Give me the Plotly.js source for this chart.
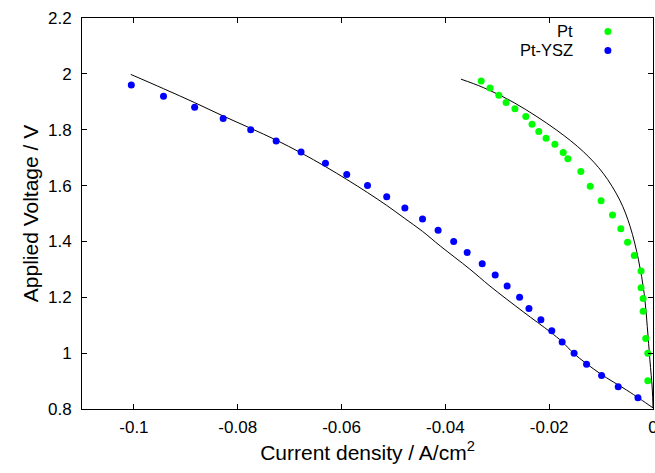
<!DOCTYPE html>
<html>
<head>
<meta charset="utf-8">
<script src="https://cdn.plot.ly/plotly-3.0.1.min.js"></script>
<style>html,body{margin:0;padding:0;background:#fff;}#chart{width:655px;height:473px;}</style>
</head>
<body>
<div id="chart"></div>
<script>
// Measured data: Pt electrode
const ptCurrent = [-0.0331,-0.0314,-0.0297,-0.0283,-0.0266,-0.0245,-0.0233,-0.0220,-0.0206,-0.0189,-0.0173,-0.0164,-0.0139,-0.0121,-0.0100,-0.0078,-0.0062,-0.0049,-0.0036,-0.0023,-0.0023,-0.0019,-0.0019,-0.0014,-0.0010,-0.0010];
const ptVoltage = [1.974,1.949,1.923,1.897,1.875,1.847,1.820,1.794,1.769,1.748,1.718,1.696,1.650,1.598,1.546,1.495,1.445,1.397,1.350,1.294,1.234,1.196,1.150,1.052,1.000,0.901];

// Measured data: Pt-YSZ electrode
const ysCurrent = [-0.1005,-0.0943,-0.0883,-0.0828,-0.0775,-0.0726,-0.0678,-0.0631,-0.0590,-0.0550,-0.0513,-0.0478,-0.0444,-0.0414,-0.0384,-0.0358,-0.0329,-0.0304,-0.0281,-0.0257,-0.0239,-0.0216,-0.0195,-0.0175,-0.0152,-0.0128,-0.0099,-0.0067,-0.0029];
const ysVoltage = [1.96,1.92,1.88,1.84,1.80,1.76,1.72,1.68,1.64,1.60,1.56,1.52,1.48,1.44,1.40,1.36,1.32,1.28,1.24,1.20,1.16,1.12,1.08,1.04,1.00,0.96,0.92,0.88,0.84];

// Model curves (black lines)
const ptFitCurrent = [-0.0370,-0.0327,-0.0266,-0.0186,-0.0134,-0.0096,-0.0064,-0.0044,-0.0028,-0.0017,-0.0011,-0.0006,-0.00013,0];
const ptFitVoltage = [1.981,1.951,1.895,1.799,1.721,1.644,1.548,1.453,1.334,1.214,1.095,0.976,0.868,0.804];
const ysFitCurrent = [-0.1006,-0.0943,-0.0883,-0.0828,-0.0775,-0.0726,-0.0678,-0.0631,-0.0590,-0.0550,-0.0513,-0.0478,-0.0444,-0.0410,-0.0353,-0.0314,-0.0250,-0.0198,-0.0175,-0.0152,-0.0102,-0.0051,-0.0025,0];
const ysFitVoltage = [1.998,1.947,1.897,1.849,1.805,1.763,1.717,1.668,1.622,1.575,1.529,1.482,1.436,1.384,1.301,1.240,1.148,1.076,1.041,0.998,0.927,0.868,0.836,0.804];

// Axis ticks
const xTickVals = [-0.1,-0.08,-0.06,-0.04,-0.02,0];
const xTickText = ['-0.1','-0.08','-0.06','-0.04','-0.02','0'];
const yTickVals = [0.8,1.0,1.2,1.4,1.6,1.8,2.0,2.2];
const yTickText = ['0.8','1','1.2','1.4','1.6','1.8','2','2.2'];

// Legend labels
const seriesNames = ['Pt','Pt-YSZ'];
const seriesColors = ['#00ff00','#0000ff'];

const FONT = 'Liberation Sans, Arial, Helvetica, sans-serif';

const traces = [
  {x: ptFitCurrent, y: ptFitVoltage, mode:'lines', line:{color:'#000', width:1, shape:'spline'}, showlegend:false, hoverinfo:'skip'},
  {x: ysFitCurrent, y: ysFitVoltage, mode:'lines', line:{color:'#000', width:1, shape:'spline'}, showlegend:false, hoverinfo:'skip'},
  {x: ptCurrent, y: ptVoltage, mode:'markers', name: seriesNames[0], marker:{color: seriesColors[0], size:7}, showlegend:false, cliponaxis:false},
  {x: ysCurrent, y: ysVoltage, mode:'markers', name: seriesNames[1], marker:{color: seriesColors[1], size:7}, showlegend:false, cliponaxis:false}
];

const legendX = 0.8617, legendMarkX = 0.921;
const legendY = [0.9655, 0.917];

const annotations = seriesNames.map((n,i)=>({
  xref:'paper', yref:'paper', x: legendX, y: legendY[i], xanchor:'right', yanchor:'middle',
  text: n, showarrow:false, borderpad:0, font:{family:FONT, size:16.5, color:'#000'}
}));
const shapes = seriesNames.map((n,i)=>({
  type:'circle', xref:'paper', yref:'paper', xsizemode:'pixel', ysizemode:'pixel',
  xanchor: legendMarkX, yanchor: legendY[i], x0:-3.5, x1:3.5, y0:-3.5, y1:3.5,
  fillcolor: seriesColors[i], line:{width:0}
}));

const layout = {
  width:655, height:473,
  margin:{l:82, r:2, t:18, b:64, pad:0},
  paper_bgcolor:'#fff', plot_bgcolor:'#fff',
  font:{family:FONT, size:17, color:'#000'},
  showlegend:false,
  xaxis:{
    range:[-0.11, 0], tickvals:xTickVals, ticktext:xTickText,
    ticks:'inside', ticklen:5, tickcolor:'#000', tickwidth:1,
    showline:true, linecolor:'#000', linewidth:1, mirror:'ticks',
    showgrid:false, zeroline:false, ticklabeloverflow:'allow', ticklabelstandoff:3,
    tickfont:{family:FONT, size:17},
    title:{text:'Current density / A/cm<sup>2</sup>', font:{family:FONT, size:21}, standoff:8}
  },
  yaxis:{
    range:[0.8, 2.2], tickvals:yTickVals, ticktext:yTickText,
    ticks:'inside', ticklen:5, tickcolor:'#000', tickwidth:1,
    showline:true, linecolor:'#000', linewidth:1, mirror:'ticks',
    showgrid:false, zeroline:false, ticklabelstandoff:6,
    tickfont:{family:FONT, size:17},
    title:{text:'Applied Voltage / V', font:{family:FONT, size:21}, standoff:3}
  },
  annotations: annotations,
  shapes: shapes
};

Plotly.newPlot('chart', traces, layout, {staticPlot:true, displayModeBar:false});
</script>
</body>
</html>
